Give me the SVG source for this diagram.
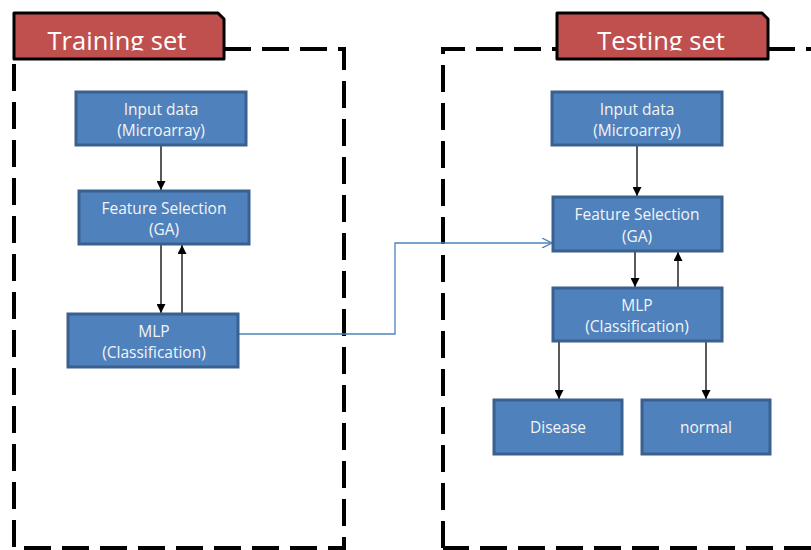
<svg xmlns="http://www.w3.org/2000/svg" width="811" height="550" viewBox="0 0 811 550">
<defs>
<marker id="ah" viewBox="0 0 10 10" refX="10" refY="5" markerWidth="9" markerHeight="9" markerUnits="userSpaceOnUse" orient="auto">
<path d="M0,0 L10,5 L0,10 Z" fill="#000"/>
</marker>
<marker id="oh" viewBox="0 0 10 10" refX="10" refY="5" markerWidth="10" markerHeight="10" markerUnits="userSpaceOnUse" orient="auto">
<path d="M0,0 L10,5 L0,10" fill="none" stroke="#4F81BD" stroke-width="1.3"/>
</marker>
<clipPath id="c1"><rect x="0" y="0" width="811" height="50.5"/></clipPath>
</defs>
<style>
.dash{fill:none;stroke:#000;stroke-width:4;stroke-dasharray:27 11}
.tab{fill:#C0504D;stroke:#000;stroke-width:3;stroke-linejoin:round}
.ttl{font-family:"Open Sans","Liberation Sans",sans-serif;font-size:25.5px;fill:#fff;text-anchor:middle}
.box{fill:#4F81BD;stroke:#3A6090;stroke-width:3}
.lbl{font-family:"Open Sans","Liberation Sans",sans-serif;font-size:15.5px;fill:#f4f4f4;text-anchor:middle}
.con{fill:none;stroke:#000;stroke-width:1.3;marker-end:url(#ah)}
.blue{fill:none;stroke:#4F81BD;stroke-width:1.3;marker-end:url(#oh)}
</style>
<g id="frames">
<path class="dash" d="M224,49 H344 V548 H14 V59"/>
<path class="dash" d="M443,548 V49 H557"/>
<path class="dash" d="M768,49 H811"/>
<path class="dash" d="M811,548 H443"/>
</g>
<g id="tab-training">
<path class="tab" d="M14,59 V13 H218 L224,19 V59 Z"/>
<text class="ttl" x="117" y="50" clip-path="url(#c1)">Training set</text>
</g>
<g id="tab-testing">
<path class="tab" d="M557,59 V13 H762 L768,19 V59 Z"/>
<text class="ttl" x="661" y="50" clip-path="url(#c1)">Testing set</text>
</g>
<g id="connectors">
<path class="con" d="M161,146 V190"/>
<path class="con" d="M161,245 V313"/>
<path class="con" d="M182,313 V245"/>
<path class="blue" d="M239,334 H395 V243 H552"/>
<path class="con" d="M637,146 V196"/>
<path class="con" d="M635,252 V287"/>
<path class="con" d="M678,287 V252"/>
<path class="con" d="M559,342 V399"/>
<path class="con" d="M706,342 V399"/>
</g>
<g id="tr-input">
<rect class="box" x="76" y="92" width="170" height="53"/>
<text class="lbl" x="161" y="115">Input data</text>
<text class="lbl" x="161" y="136">(Microarray)</text>
</g>
<g id="tr-feature">
<rect class="box" x="79" y="191" width="170" height="53"/>
<text class="lbl" x="164" y="214">Feature Selection</text>
<text class="lbl" x="164" y="235">(GA)</text>
</g>
<g id="tr-mlp">
<rect class="box" x="68" y="314" width="170" height="53"/>
<text class="lbl" x="154" y="337">MLP</text>
<text class="lbl" x="154" y="358">(Classification)</text>
</g>
<g id="te-input">
<rect class="box" x="552" y="92" width="170" height="53"/>
<text class="lbl" x="637" y="115">Input data</text>
<text class="lbl" x="637" y="136">(Microarray)</text>
</g>
<g id="te-feature">
<rect class="box" x="553" y="197" width="169" height="54"/>
<text class="lbl" x="637" y="220">Feature Selection</text>
<text class="lbl" x="637" y="242">(GA)</text>
</g>
<g id="te-mlp">
<rect class="box" x="553" y="288" width="169" height="53"/>
<text class="lbl" x="637" y="311">MLP</text>
<text class="lbl" x="637" y="332">(Classification)</text>
</g>
<g id="te-disease">
<rect class="box" x="494" y="400" width="128" height="54"/>
<text class="lbl" x="558" y="433">Disease</text>
</g>
<g id="te-normal">
<rect class="box" x="642" y="400" width="128" height="54"/>
<text class="lbl" x="706" y="433">normal</text>
</g>
</svg>
